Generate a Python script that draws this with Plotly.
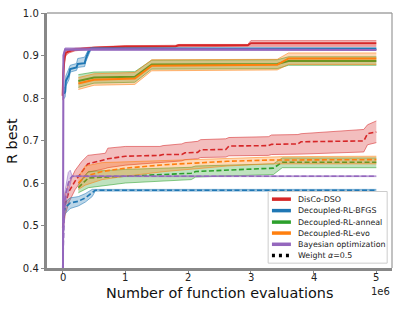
import plotly.graph_objects as go

# ---------------- data (x in units of 1e6 function evaluations) ----------------
# DisCo-DSO, alpha = 1 (solid)
disco_x = [0.0, 0.01, 0.03, 0.05, 0.1, 0.2, 0.5, 1.0, 1.8, 1.85, 2.95, 3.0, 5.0]
disco_mean = [0.805, 0.86, 0.895, 0.906, 0.91, 0.914, 0.918, 0.921, 0.922, 0.924, 0.924, 0.929, 0.929]
disco_lo = [0.795, 0.84, 0.885, 0.90, 0.906, 0.911, 0.916, 0.919, 0.920, 0.921, 0.921, 0.922, 0.922]
disco_hi = [0.815, 0.88, 0.905, 0.911, 0.914, 0.917, 0.920, 0.923, 0.924, 0.926, 0.926, 0.935, 0.935]
# DisCo-DSO, alpha = 0.5 (dashed)
disco05_x = [0.0, 0.04, 0.1, 0.2, 0.3, 0.4, 0.68, 0.72, 1.0, 1.55, 1.6, 1.9, 1.95, 2.15, 2.2, 2.6, 2.65,
             3.28, 3.33, 3.75, 3.8, 4.8, 4.86, 5.0]
disco05_mean = [0.495, 0.55, 0.58, 0.605, 0.625, 0.645, 0.655, 0.657, 0.663, 0.665, 0.667, 0.667, 0.671,
                0.672, 0.678, 0.679, 0.687, 0.688, 0.691, 0.692, 0.697, 0.699, 0.716, 0.72]
disco05_lo = [0.48, 0.525, 0.555, 0.585, 0.605, 0.625, 0.634, 0.636, 0.642, 0.648, 0.650, 0.652, 0.655,
              0.657, 0.660, 0.661, 0.664, 0.665, 0.667, 0.667, 0.668, 0.673, 0.69, 0.695]
disco05_hi = [0.51, 0.575, 0.60, 0.63, 0.65, 0.665, 0.67, 0.682, 0.686, 0.686, 0.688, 0.692, 0.695,
              0.698, 0.702, 0.704, 0.707, 0.709, 0.713, 0.714, 0.716, 0.726, 0.737, 0.746]

# Decoupled-RL-BFGS
bfgs_x = [0.02, 0.04, 0.05, 0.1, 0.12, 0.22, 0.24, 0.35, 0.37, 0.41, 0.45, 5.0]
bfgs_mean = [0.81, 0.815, 0.84, 0.855, 0.868, 0.872, 0.88, 0.882, 0.893, 0.908, 0.916, 0.916]
bfgs_lo = [0.798, 0.803, 0.828, 0.843, 0.861, 0.865, 0.872, 0.874, 0.886, 0.900, 0.914, 0.914]
bfgs_hi = [0.822, 0.827, 0.852, 0.867, 0.877, 0.881, 0.893, 0.896, 0.903, 0.914, 0.918, 0.918]
bfgs05_x = [0.016, 0.04, 0.12, 0.25, 0.36, 0.47, 0.52, 5.0]
bfgs05_mean = [0.53, 0.542, 0.553, 0.557, 0.565, 0.577, 0.583, 0.583]
bfgs05_lo = [0.515, 0.528, 0.54, 0.546, 0.555, 0.568, 0.581, 0.581]
bfgs05_hi = [0.545, 0.555, 0.565, 0.568, 0.575, 0.585, 0.585, 0.585]

# Decoupled-RL-anneal
anneal_x = [0.25, 0.5, 1.15, 1.42, 3.42, 3.6, 5.0]
anneal_mean = [0.84, 0.848, 0.85, 0.879, 0.88, 0.887, 0.887]
anneal_lo = [0.825, 0.835, 0.837, 0.868, 0.869, 0.877, 0.877]
anneal_hi = [0.855, 0.861, 0.862, 0.889, 0.89, 0.897, 0.897]
anneal05_x = [0.25, 0.41, 1.0, 1.63, 2.05, 2.12, 3.36, 3.5, 5.0]
anneal05_mean = [0.589, 0.612, 0.616, 0.62, 0.623, 0.627, 0.635, 0.649, 0.649]
anneal05_lo = [0.577, 0.589, 0.60, 0.604, 0.608, 0.614, 0.62, 0.636, 0.636]
anneal05_hi = [0.60, 0.627, 0.632, 0.635, 0.637, 0.64, 0.645, 0.659, 0.659]

# Decoupled-RL-evo
evo_x = [0.25, 0.5, 1.15, 1.42, 3.42, 3.6, 5.0]
evo_mean = [0.834, 0.843, 0.846, 0.876, 0.878, 0.893, 0.893]
evo_lo = [0.82, 0.83, 0.832, 0.864, 0.866, 0.879, 0.879]
evo_hi = [0.848, 0.857, 0.86, 0.89, 0.891, 0.906, 0.906]
evo05_x = [0.25, 0.36, 0.63, 1.0, 1.63, 2.62, 3.3, 3.5, 5.0]
evo05_mean = [0.60, 0.616, 0.627, 0.635, 0.643, 0.651, 0.654, 0.654, 0.655]
evo05_lo = [0.585, 0.595, 0.608, 0.616, 0.627, 0.64, 0.645, 0.645, 0.645]
evo05_hi = [0.615, 0.64, 0.648, 0.65, 0.652, 0.658, 0.661, 0.662, 0.663]

# Bayesian optimization
bayes_x = [0.005, 0.012, 0.04, 5.0]
bayes_mean = [0.40, 0.90, 0.915, 0.913]
bayes_lo = [0.40, 0.895, 0.912, 0.912]
bayes_hi = [0.40, 0.905, 0.918, 0.914]
bayes05_x = [0.0, 0.016, 0.03, 0.06, 0.09, 0.12, 0.15, 5.0]
bayes05_mean = [0.40, 0.53, 0.555, 0.58, 0.60, 0.61, 0.616, 0.616]
bayes05_lo = [0.40, 0.51, 0.535, 0.56, 0.58, 0.595, 0.615, 0.615]
bayes05_hi = [0.40, 0.55, 0.575, 0.60, 0.625, 0.63, 0.617, 0.617]

legend_names = ["DisCo-DSO", "Decoupled-RL-BFGS", "Decoupled-RL-anneal", "Decoupled-RL-evo",
                "Bayesian optimization"]
legend_weight_label = "Weight <i>α</i>=0.5"
x_ticks = [0, 1, 2, 3, 4, 5]
y_ticks = [0.4, 0.5, 0.6, 0.7, 0.8, 0.9, 1.0]

COLORS = {"DisCo-DSO": (214, 39, 40), "Decoupled-RL-BFGS": (31, 119, 180),
          "Decoupled-RL-anneal": (44, 160, 44), "Decoupled-RL-evo": (255, 127, 14),
          "Bayesian optimization": (148, 103, 189)}

series = [
    ("DisCo-DSO", disco_x, disco_mean, disco_lo, disco_hi, disco05_x, disco05_mean, disco05_lo, disco05_hi),
    ("Decoupled-RL-BFGS", bfgs_x, bfgs_mean, bfgs_lo, bfgs_hi, bfgs05_x, bfgs05_mean, bfgs05_lo, bfgs05_hi),
    ("Decoupled-RL-anneal", anneal_x, anneal_mean, anneal_lo, anneal_hi, anneal05_x, anneal05_mean, anneal05_lo, anneal05_hi),
    ("Decoupled-RL-evo", evo_x, evo_mean, evo_lo, evo_hi, evo05_x, evo05_mean, evo05_lo, evo05_hi),
    ("Bayesian optimization", bayes_x, bayes_mean, bayes_lo, bayes_hi, bayes05_x, bayes05_mean, bayes05_lo, bayes05_hi),
]


def rgba(c, a):
    return "rgba(%d,%d,%d,%.2f)" % (c[0], c[1], c[2], a)


FONT = "DejaVu Sans"
fig = go.Figure()


def add_band(x, mean, lo, hi, c, dashed):
    fig.add_trace(go.Scatter(x=x, y=lo, mode="lines", line=dict(color=rgba(c, 0.55), width=1),
                             showlegend=False, hoverinfo="skip"))
    fig.add_trace(go.Scatter(x=x, y=hi, mode="lines", fill="tonexty", fillcolor=rgba(c, 0.3),
                             line=dict(color=rgba(c, 0.55), width=1), showlegend=False, hoverinfo="skip"))
    fig.add_trace(go.Scatter(x=x, y=mean, mode="lines",
                             line=dict(color=rgba(c, 1), width=1.6 if dashed else 2,
                                       dash="5px,2.5px" if dashed else "solid"),
                             showlegend=False))


for name, x1, m1, l1, h1, x5, m5, l5, h5 in series:
    c = COLORS[name]
    add_band(x1, m1, l1, h1, c, False)
    add_band(x5, m5, l5, h5, c, True)

# ---------------- manual legend (matplotlib style) ----------------
shapes = []
annots = []
L0, L1, B0, B1 = 0.641, 0.986, 0.019, 0.300
shapes.append(dict(type="rect", xref="paper", yref="paper", x0=L0, x1=L1, y0=B0, y1=B1,
                   line=dict(color="#cccccc", width=1), fillcolor="rgba(255,255,255,0.85)", layer="above"))
rows = [0.270, 0.225, 0.180, 0.137, 0.093, 0.049]
labels = legend_names + [legend_weight_label]
for i, (lab, yv) in enumerate(zip(labels, rows)):
    if i < len(legend_names):
        shapes.append(dict(type="line", xref="paper", yref="paper", x0=0.652, x1=0.707, y0=yv, y1=yv,
                           line=dict(color=rgba(COLORS[lab], 1), width=3.5), layer="above"))
    else:
        shapes.append(dict(type="line", xref="paper", yref="paper", x0=0.652, x1=0.707, y0=yv, y1=yv,
                           line=dict(color="black", width=3.5, dash="3px,4px"), layer="above"))
    annots.append(dict(text=lab, xref="paper", yref="paper", x=0.722, y=yv, xanchor="left",
                       yanchor="middle", showarrow=False, font=dict(family=FONT, size=7.9, color="#222")))

# top and right thin spines
shapes.append(dict(type="line", xref="paper", yref="paper", x0=0, x1=1, y0=1, y1=1,
                   line=dict(color="#777", width=1), layer="above"))
shapes.append(dict(type="line", xref="paper", yref="paper", x0=1, x1=1, y0=0, y1=1,
                   line=dict(color="#999", width=1.2), layer="above"))

# x tick labels placed through the x scale (closer to the axis, matplotlib style)
for t in x_ticks:
    annots.append(dict(text=str(t), xref="x", yref="paper", x=t, y=-0.0376, xanchor="center",
                       yanchor="middle", showarrow=False, font=dict(family=FONT, size=10, color="#222")))

# axis titles and offset text
annots.append(dict(text="Number of function evaluations", xref="paper", yref="paper", x=0.5, y=-0.099,
                   xanchor="center", yanchor="middle", showarrow=False,
                   font=dict(family=FONT, size=14.4, color="#111")))
annots.append(dict(text="R best", xref="paper", yref="paper", x=-0.103, y=0.5, textangle=-90,
                   xanchor="center", yanchor="middle", showarrow=False,
                   font=dict(family=FONT, size=14.4, color="#111")))
annots.append(dict(text="1e6", xref="paper", yref="paper", x=1.0, y=-0.093, xanchor="right",
                   yanchor="middle", showarrow=False, font=dict(family=FONT, size=10, color="#222")))

fig.update_layout(
    width=399, height=309,
    margin=dict(l=47, r=7, t=10, b=41),
    paper_bgcolor="white", plot_bgcolor="white",
    showlegend=False,
    shapes=shapes, annotations=annots,
    font=dict(family=FONT, size=10, color="#222"),
)
fig.update_xaxes(range=[-0.25, 5.25], tickvals=x_ticks, showticklabels=False,
                 showgrid=False, zeroline=False, showline=True, linecolor="#888", linewidth=2.5,
                 ticks="outside", ticklen=3, tickcolor="#888", tickwidth=1)
fig.update_yaxes(range=[0.4, 1.0], tickvals=y_ticks, ticktext=["%.1f" % t for t in y_ticks],
                 showgrid=False, zeroline=False, showline=True, linecolor="#888", linewidth=2.5,
                 ticks="outside", ticklen=3.5, tickcolor="#888", tickwidth=1,
                 tickfont=dict(family=FONT, size=10, color="#222"))

fig.write_html("out.html", config={"displayModeBar": False},
               post_script="document.body.style.margin='0';document.body.style.overflow='hidden';")
